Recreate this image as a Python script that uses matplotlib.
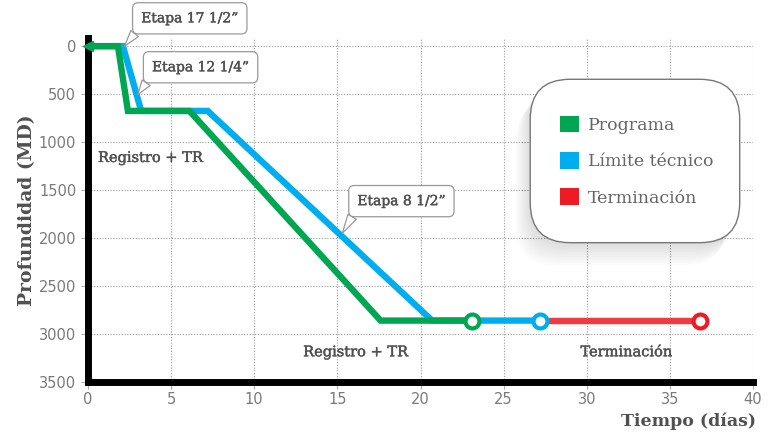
import matplotlib
matplotlib.use("Agg")
import matplotlib.pyplot as plt
import matplotlib.patheffects as pe
from matplotlib.patches import FancyBboxPatch, Patch

# Series: time (days) vs measured depth (m)
time_prog = [0, 1.8, 2.4, 6.1, 17.6, 23.1]
depth_prog = [0, 0, 675, 675, 2860, 2860]
time_lim = [0, 2.1, 3.2, 7.2, 20.7, 27.2]
depth_lim = [0, 0, 675, 675, 2860, 2860]
time_term = [27.2, 36.8]
depth_term = [2860, 2860]

series_names = ["Programa", "Límite técnico", "Terminación"]
series_colors = ["#00a651", "#00aeef", "#ed1c24"]
line_red = "#ef3b45"

x_ticks = [0, 5, 10, 15, 20, 25, 30, 35, 40]
y_ticks = [0, 500, 1000, 1500, 2000, 2500, 3000, 3500]

serif = "DejaVu Serif"
sans = "DejaVu Sans"
txt_col = "#505050"
tick_col = "#7a7a7a"
semibold = [pe.withStroke(linewidth=0.3, foreground=txt_col)]

fig = plt.figure(figsize=(7.76, 4.34), dpi=100)
ax = fig.add_axes([88 / 776, 1 - 382 / 434, 665 / 776, 344 / 434])

ax.set_xlim(0, 40)
ax.set_ylim(3500, -85)

ax.set_xticks(x_ticks)
ax.set_yticks(y_ticks)
ax.tick_params(axis="both", colors="#aaaaaa", labelcolor=tick_col, length=5,
               width=0.8, labelsize=10.5)
ax.tick_params(axis="x", pad=2)
for lab in ax.get_xticklabels() + ax.get_yticklabels():
    lab.set_fontfamily(sans)
ax.grid(True, color="#9a9a9a", linestyle=(0, (1, 1.5)), linewidth=0.8)
ax.set_axisbelow(True)

for s in ["top", "right"]:
    ax.spines[s].set_visible(False)
for s in ["left", "bottom"]:
    ax.spines[s].set_linewidth(5)
    ax.spines[s].set_color("black")
    ax.spines[s].set_capstyle("projecting")

lw = 4.6
# Technical limit (under), programme (over), completion
ax.plot(time_lim, depth_lim, color=series_colors[1], lw=lw, solid_joinstyle="miter",
        solid_capstyle="butt", zorder=3)
ax.plot(time_prog, depth_prog, color=series_colors[0], lw=lw, solid_joinstyle="miter",
        solid_capstyle="butt", zorder=4)
ax.plot(time_term, depth_term, color=line_red, lw=lw, solid_capstyle="butt", zorder=3)

# start arrow and end markers
ax.plot([time_prog[0]], [depth_prog[0]], marker="<", ms=7, color=series_colors[0],
        mec=series_colors[0], zorder=6, clip_on=False)
ax.plot([time_prog[-1]], [depth_prog[-1]], marker="o", ms=10, mfc="white",
        mec=series_colors[0], mew=3, zorder=6)
ax.plot([time_lim[-1]], [depth_lim[-1]], marker="o", ms=10, mfc="white",
        mec=series_colors[1], mew=3, zorder=6)
ax.plot([time_term[-1]], [depth_term[-1]], marker="o", ms=10, mfc="white",
        mec=series_colors[2], mew=3, zorder=6)

# Phase labels
phase_kw = dict(family=serif, fontsize=10.5, color=txt_col, va="center", zorder=5,
                path_effects=semibold)
ax.text(0.6, 1165, "Registro + TR", ha="left", **phase_kw)
ax.text(16.1, 3190, "Registro + TR", ha="center", **phase_kw)
ax.text(32.4, 3190, "Terminación", ha="center", **phase_kw)

# Callouts for each hole section
bubble = dict(boxstyle="round,pad=0.62,rounding_size=0.4", fc="white", ec="#999999", lw=0.9)
callouts = [("Etapa 17 1/2\u201d", (2.2, 0), (3.2, -290)),
            ("Etapa 12 1/4\u201d", (3.0, 505), (3.85, 220)),
            ("Etapa 8 1/2\u201d", (15.3, 1950), (16.2, 1615))]
for label, xy, xytext in callouts:
    ann = ax.annotate(label, xy=xy, xytext=xytext, textcoords="data",
                      family=serif, fontsize=10, color=txt_col,
                      ha="left", va="center", bbox=bubble, zorder=7, annotation_clip=False,
                      arrowprops=dict(arrowstyle="wedge,tail_width=0.7,shrink_factor=0.5",
                                      fc="white", ec="#999999", lw=0.9,
                                      relpos=(0.0, 0.0), shrinkA=0, shrinkB=0))
    ann.set_path_effects(semibold)

# Legend panel with soft shadow
lx0, ly0, lx1, ly1 = 0.665, 0.405, 0.980, 0.880
for i in range(12):
    off = i * 0.004
    sh = FancyBboxPatch((lx0 - off * 0.5, ly0 - off * 1.5), lx1 - lx0, ly1 - ly0,
                        boxstyle="round,pad=0,rounding_size=0.06",
                        transform=ax.transAxes, fc="#000000", ec="none",
                        alpha=0.012, zorder=7, mutation_aspect=665 / 344)
    ax.add_patch(sh)
panel = FancyBboxPatch((lx0, ly0), lx1 - lx0, ly1 - ly0,
                       boxstyle="round,pad=0,rounding_size=0.06",
                       transform=ax.transAxes, fc="white", ec="#777777", lw=1.0,
                       zorder=8, mutation_aspect=665 / 344)
ax.add_patch(panel)

handles = [Patch(facecolor=c, edgecolor="none") for c in series_colors]
leg = ax.legend(handles, series_names, loc="center", bbox_to_anchor=(0.825, 0.642),
                frameon=False, handlelength=1.1, handleheight=1.1, handletextpad=0.5,
                labelspacing=1.05, prop=dict(family=serif, size=12.5))
leg.set_zorder(9)
for t in leg.get_texts():
    t.set_color("#666666")

ax.set_xlabel("Tiempo (días)", family=serif, fontsize=12.5, fontweight="bold",
              color=txt_col)
ax.xaxis.set_label_coords(1.005, -0.09)
ax.xaxis.label.set_ha("right")
ax.set_ylabel("Profundidad (MD)", family=serif, fontsize=13.5, fontweight="bold",
              color=txt_col)
ax.yaxis.set_label_coords(-0.078, 0.5)

fig.savefig("out.png", dpi=100)
